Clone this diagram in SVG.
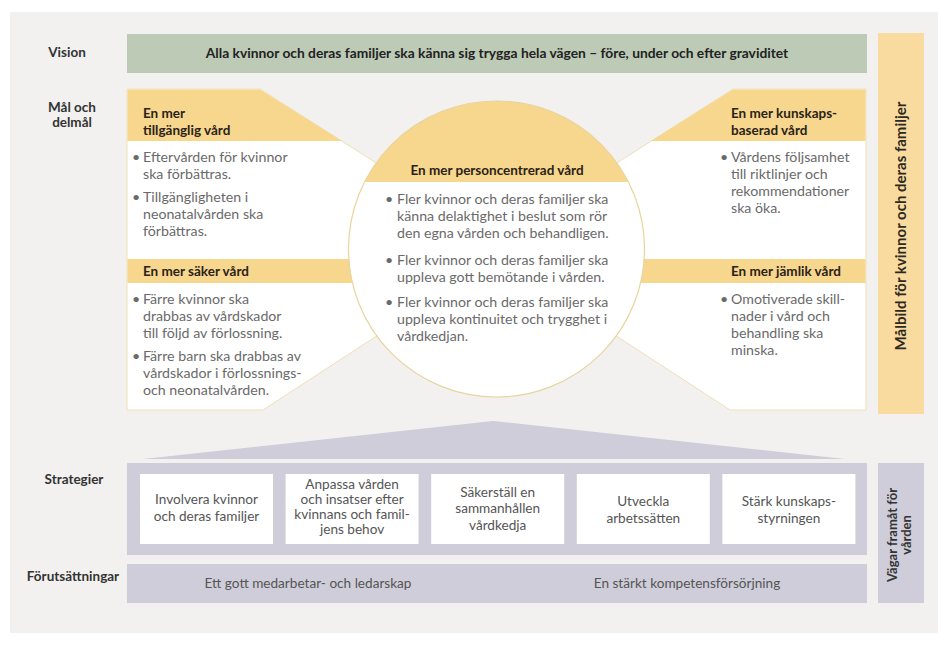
<svg xmlns="http://www.w3.org/2000/svg" width="938" height="646" viewBox="0 0 938 646">
<defs>
<style>
text{font-family:Lato,"Noto Sans","Liberation Sans",sans-serif}
.lbl{font-size:13.5px;font-weight:bold;fill:#333;text-anchor:middle}
.hd{font-size:13.5px;font-weight:bold;fill:#2a2218}
.bt{font-size:14.2px;fill:#6a6a6a}
.st{font-size:13.6px;fill:#555;text-anchor:middle}
.box{fill:#fff;stroke:#efdfb4;stroke-width:1}
.org{fill:#f7d68e}
.lav{fill:#cecdd9}
.sbox{fill:#fff}
</style>
<clipPath id="circ"><circle cx="496.5" cy="249" r="148"/></clipPath>
</defs>
<rect x="0" y="0" width="938" height="646" fill="#fff"/>
<rect x="10" y="12" width="928" height="621" fill="#f2f1ef"/>

<g id="labels">
<text class="lbl" x="67" y="57">Vision</text>
<text class="lbl" x="72" y="112">Mål och</text>
<text class="lbl" x="72" y="127">delmål</text>
<text class="lbl" x="74" y="484">Strategier</text>
<text class="lbl" x="73" y="581">Förutsättningar</text>
</g>

<g id="vision">
<rect x="127" y="34" width="740" height="39" fill="#bccab6"/>
<text x="497" y="58" text-anchor="middle" style="font-size:13.8px;font-weight:bold;fill:#222">Alla kvinnor och deras familjer ska känna sig trygga hela vägen – före, under och efter graviditet</text>
</g>

<g id="malbild">
<rect x="878" y="33" width="46" height="381" fill="#f9dba0"/>
<text transform="translate(906,226) rotate(-90)" text-anchor="middle" style="font-size:15px;font-weight:bold;fill:#2e2a22">Målbild för kvinnor och deras familjer</text>
</g>

<g id="left-panel">
<polygon class="box" points="127,89 260,89 392,173 392,326 263,410 127,410"/>
<polygon class="org" points="127.5,89.5 260,89.5 342,141 127.5,141"/>
<rect class="org" x="127.5" y="259" width="260" height="24"/>
</g>

<g id="right-panel">
<polygon class="box" points="866,89 733,89 601,173 601,326 730,410 866,410"/>
<polygon class="org" points="865.5,89.5 733,89.5 651,141 865.5,141"/>
<rect class="org" x="605" y="259" width="260.5" height="24"/>
</g>

<g id="center-circle">
<circle cx="496.5" cy="249" r="148" fill="#fff"/>
<rect class="org" x="340" y="95" width="320" height="87" clip-path="url(#circ)"/>
<circle cx="496.5" cy="249" r="148" fill="none" stroke="#e8d49e" stroke-width="1.2"/>
</g>

<g id="goal-tillganglig">
<text class="hd" x="143" y="118">En mer</text>
<text class="hd" x="143" y="135">tillgänglig vård</text>
<text class="bt" x="132" y="162">•</text>
<text class="bt" x="143" y="162">Eftervården för kvinnor</text>
<text class="bt" x="143" y="179">ska förbättras.</text>
<text class="bt" x="132" y="202">•</text>
<text class="bt" x="143" y="202">Tillgängligheten i</text>
<text class="bt" x="143" y="219">neonatalvården ska</text>
<text class="bt" x="143" y="236">förbättras.</text>
</g>

<g id="goal-saker">
<text class="hd" x="143" y="276">En mer säker vård</text>
<text class="bt" x="132" y="304">•</text>
<text class="bt" x="143" y="304">Färre kvinnor ska</text>
<text class="bt" x="143" y="321">drabbas av vårdskador</text>
<text class="bt" x="143" y="338">till följd av förlossning.</text>
<text class="bt" x="132" y="361">•</text>
<text class="bt" x="143" y="361">Färre barn ska drabbas av</text>
<text class="bt" x="143" y="378">vårdskador i förlossnings-</text>
<text class="bt" x="143" y="395">och neonatalvården.</text>
</g>

<g id="goal-personcentrerad">
<text class="hd" x="497" y="175" text-anchor="middle">En mer personcentrerad vård</text>
<text class="bt" x="385" y="204">•</text>
<text class="bt" x="397" y="204">Fler kvinnor och deras familjer ska</text>
<text class="bt" x="397" y="221">känna delaktighet i beslut som rör</text>
<text class="bt" x="397" y="238">den egna vården och behandligen.</text>
<text class="bt" x="385" y="265">•</text>
<text class="bt" x="397" y="265">Fler kvinnor och deras familjer ska</text>
<text class="bt" x="397" y="282">uppleva gott bemötande i vården.</text>
<text class="bt" x="385" y="307">•</text>
<text class="bt" x="397" y="307">Fler kvinnor och deras familjer ska</text>
<text class="bt" x="397" y="324">uppleva kontinuitet och trygghet i</text>
<text class="bt" x="397" y="341">vårdkedjan.</text>
</g>

<g id="goal-kunskapsbaserad">
<text class="hd" x="731" y="118">En mer kunskaps-</text>
<text class="hd" x="731" y="135">baserad vård</text>
<text class="bt" x="720" y="162">•</text>
<text class="bt" x="731" y="162">Vårdens följsamhet</text>
<text class="bt" x="731" y="179">till riktlinjer och</text>
<text class="bt" x="731" y="196">rekommendationer</text>
<text class="bt" x="731" y="213">ska öka.</text>
</g>

<g id="goal-jamlik">
<text class="hd" x="731" y="276">En mer jämlik vård</text>
<text class="bt" x="720" y="304">•</text>
<text class="bt" x="731" y="304">Omotiverade skill-</text>
<text class="bt" x="731" y="321">nader i vård och</text>
<text class="bt" x="731" y="338">behandling ska</text>
<text class="bt" x="731" y="355">minska.</text>
</g>

<g id="strategies">
<polygon class="lav" points="143,459 493,421 845,459"/>
<rect class="lav" x="127" y="463" width="740" height="92"/>
</g>

<g id="s1">
<rect class="sbox" x="140" y="474" width="133" height="70"/>
<text class="st" x="206.5" y="504">Involvera kvinnor</text>
<text class="st" x="206.5" y="521">och deras familjer</text>
</g>
<g id="s2">
<rect class="sbox" x="285.6" y="474" width="133" height="70"/>
<text class="st" x="352.1" y="489">Anpassa vården</text>
<text class="st" x="352.1" y="504">och insatser efter</text>
<text class="st" x="352.1" y="519">kvinnans och famil-</text>
<text class="st" x="352.1" y="534">jens behov</text>
</g>
<g id="s3">
<rect class="sbox" x="431.2" y="474" width="133" height="70"/>
<text class="st" x="497.7" y="497">Säkerställ en</text>
<text class="st" x="497.7" y="513">sammanhållen</text>
<text class="st" x="497.7" y="530">vårdkedja</text>
</g>
<g id="s4">
<rect class="sbox" x="576.8" y="474" width="133" height="70"/>
<text class="st" x="643.3" y="506">Utveckla</text>
<text class="st" x="643.3" y="523">arbetssätten</text>
</g>
<g id="s5">
<rect class="sbox" x="722.4" y="474" width="133" height="70"/>
<text class="st" x="788.9" y="506">Stärk kunskaps-</text>
<text class="st" x="788.9" y="523">styrningen</text>
</g>

<g id="preconditions">
<rect class="lav" x="127" y="564" width="740" height="39"/>
<text class="st" x="308" y="588">Ett gott medarbetar- och ledarskap</text>
<text class="st" x="687" y="588">En stärkt kompetensförsörjning</text>
</g>

<g id="vagar">
<rect class="lav" x="878" y="463" width="46" height="140"/>
<text transform="translate(896.5,535) rotate(-90)" text-anchor="middle" style="font-size:13px;font-weight:bold;fill:#333">Vägar framåt för</text>
<text transform="translate(910.5,535) rotate(-90)" text-anchor="middle" style="font-size:13px;font-weight:bold;fill:#333">vården</text>
</g>
</svg>
